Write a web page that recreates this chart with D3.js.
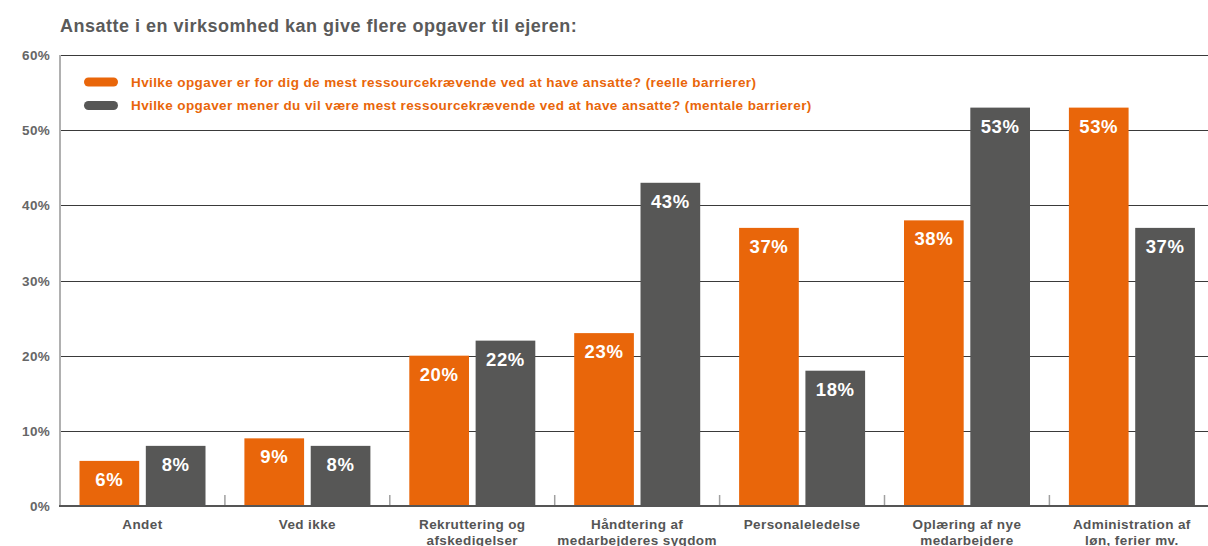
<!DOCTYPE html>
<html>
<head>
<meta charset="utf-8">
<script src="https://cdn.jsdelivr.net/npm/d3@7"></script>
<style>
  html, body { margin: 0; padding: 0; background: #fff; overflow: hidden; }
  svg { display: block; font-family: "Liberation Sans", Arial, Helvetica, sans-serif; }
</style>
</head>
<body>
<svg id="chart" width="1208" height="546"></svg>
<script>
const title = "Ansatte i en virksomhed kan give flere opgaver til ejeren:";
const categories = [
  ["Andet"],
  ["Ved ikke"],
  ["Rekruttering og", "afskedigelser"],
  ["Håndtering af", "medarbejderes sygdom"],
  ["Personaleledelse"],
  ["Oplæring af nye", "medarbejdere"],
  ["Administration af", "løn, ferier mv."]
];
const seriesNames = [
  "Hvilke opgaver er for dig de mest ressourcekrævende ved at have ansatte? (reelle barrierer)",
  "Hvilke opgaver mener du vil være mest ressourcekrævende ved at have ansatte? (mentale barrierer)"
];
const reelle = [6, 9, 20, 23, 37, 38, 53];
const mentale = [8, 8, 22, 43, 18, 53, 37];
const yTicks = [0, 10, 20, 30, 40, 50, 60];
const colors = ["#E9660A", "#575756"];

(function () {
const svg = d3.select("#chart");
const plotLeft = 60, plotBottom = 506, plotTop = 55, bandStep = 164.9;
const catKeys = categories.map(c => c.join(" "));
const x = d3.scaleBand().domain(catKeys).range([plotLeft, plotLeft + bandStep * catKeys.length]).padding(0);
const xs = d3.scaleBand().domain([0, 1]).range([19.5, 145.5]).paddingInner(0.1);
const y = d3.scaleLinear().domain([0, 60]).range([plotBottom, plotTop]);

// title
svg.append("text").attr("x", 60).attr("y", 32)
  .attr("font-size", 18).attr("letter-spacing", 0.5).attr("font-weight", "bold").attr("fill", "#5a5a5a")
  .text(title);

// gridlines
svg.append("g").selectAll("line").data(yTicks.filter(t => t > 0)).join("line")
  .attr("x1", plotLeft).attr("x2", 1214)
  .attr("y1", d => Math.round(y(d)) + 0.5).attr("y2", d => Math.round(y(d)) + 0.5)
  .attr("stroke", "#3a3a3a").attr("stroke-width", 1.2);

// y axis labels
svg.append("g").selectAll("text").data(yTicks).join("text")
  .attr("x", 50).attr("y", d => y(d) + 5)
  .attr("text-anchor", "end").attr("font-size", 13.5).attr("letter-spacing", 0.3)
  .attr("font-weight", "bold").attr("fill", "#666")
  .text(d => d + "%");

// left axis
svg.append("line").attr("x1", plotLeft).attr("x2", plotLeft).attr("y1", plotTop).attr("y2", plotBottom)
  .attr("stroke", "#b0b0b0").attr("stroke-width", 2);

// bars
const data = catKeys.map((k, i) => ({ key: k, vals: [reelle[i], mentale[i]] }));
const groups = svg.append("g").selectAll("g").data(data).join("g")
  .attr("transform", d => `translate(${x(d.key)},0)`);
groups.selectAll("rect").data(d => d.vals.map((v, j) => ({ v, j }))).join("rect")
  .attr("x", d => xs(d.j)).attr("width", xs.bandwidth())
  .attr("y", d => y(d.v)).attr("height", d => plotBottom - y(d.v))
  .attr("fill", d => colors[d.j]);
groups.selectAll("text").data(d => d.vals.map((v, j) => ({ v, j }))).join("text")
  .attr("x", d => xs(d.j) + xs.bandwidth() / 2).attr("y", d => y(d.v) + 25)
  .attr("text-anchor", "middle").attr("font-size", 18.5).attr("letter-spacing", 0.6)
  .attr("font-weight", "bold").attr("fill", "#fff")
  .text(d => d.v + "%");

// category separator ticks
svg.append("g").selectAll("line").data(d3.range(1, catKeys.length)).join("line")
  .attr("x1", d => plotLeft + d * bandStep).attr("x2", d => plotLeft + d * bandStep)
  .attr("y1", plotBottom - 11).attr("y2", plotBottom)
  .attr("stroke", "#a0a0a0").attr("stroke-width", 1.5);

// bottom axis
svg.append("line").attr("x1", plotLeft - 1).attr("x2", 1214).attr("y1", plotBottom).attr("y2", plotBottom)
  .attr("stroke", "#555").attr("stroke-width", 2);

// category labels
const cl = svg.append("g").selectAll("text").data(categories).join("text")
  .attr("x", (d, i) => x(catKeys[i]) + x.bandwidth() / 2)
  .attr("y", 529)
  .attr("text-anchor", "middle").attr("font-size", 13.5).attr("letter-spacing", 0.4)
  .attr("font-weight", "bold").attr("fill", "#555");
cl.selectAll("tspan").data(d => d).join("tspan")
  .attr("x", function () { return d3.select(this.parentNode).attr("x"); })
  .attr("dy", (d, i) => i === 0 ? 0 : 15.5)
  .text(d => d);

// legend
const lg = svg.append("g").selectAll("g").data(seriesNames).join("g")
  .attr("transform", (d, i) => `translate(84,${82 + i * 23.5})`);
lg.append("rect").attr("x", 0).attr("y", -4.5).attr("width", 34).attr("height", 9).attr("rx", 4.5)
  .attr("fill", (d, i) => colors[i]);
lg.append("text").attr("x", 47).attr("y", 4.7)
  .attr("font-size", 13.5).attr("letter-spacing", 0.4).attr("font-weight", "bold").attr("fill", "#E9660A")
  .text(d => d);
})();
</script>
</body>
</html>
